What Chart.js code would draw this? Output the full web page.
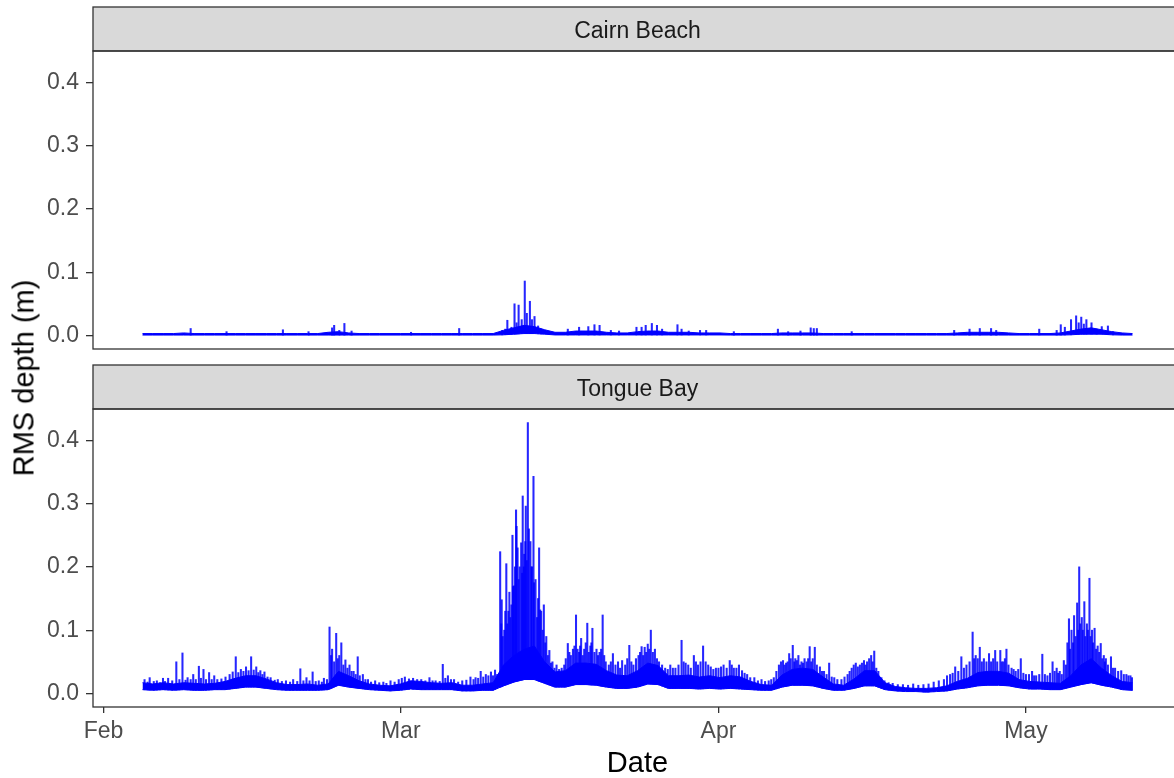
<!DOCTYPE html>
<html>
<head>
<meta charset="utf-8">
<title>RMS depth</title>
<script src="https://cdn.jsdelivr.net/npm/chart.js@4.4.1/dist/chart.umd.min.js"></script>
<style>
html, body { margin: 0; padding: 0; overflow: hidden; background: #fff; }
#wrap { position: relative; width: 1174px; height: 778px; overflow: hidden; }
#cnvCairn { position: absolute; left: 0; top: 0; }
#cnvTongue { position: absolute; left: 0; top: 360px; }
#lblY { position: absolute; left: 24px; top: 378px; transform: translate(-50%, -50%) rotate(-90deg);
  font: 29px "Liberation Sans", Arial, sans-serif; line-height: 1; white-space: nowrap; color: #000; }
</style>
</head>
<body>
<div id="wrap">
  <canvas id="cnvCairn" width="1184" height="360"></canvas>
  <canvas id="cnvTongue" width="1184" height="418"></canvas>
  <div id="lblY">RMS depth (m)</div>
</div>
<script>
// days are counted from 1 Feb
var monthTicks = [0, 29, 60, 90];
var monthLabels = ["Feb", "Mar", "Apr", "May"];
var yTicks = [0, 0.1, 0.2, 0.3, 0.4];
var firstDay = 3.8, lastDay = 100.4;

// Tongue Bay: lower / upper edge of the dense band, one value per day
var tbLow = [
  0.006, 0.005, 0.006, 0.005, 0.006, 0.005, 0.005, 0.006, 0.006, 0.008,
  0.010, 0.010, 0.008, 0.006, 0.005, 0.005, 0.005, 0.005, 0.006, 0.013,
  0.010, 0.008, 0.006, 0.005, 0.004, 0.005, 0.007, 0.006, 0.006, 0.006,
  0.006, 0.004, 0.004, 0.005, 0.005, 0.012, 0.018, 0.022, 0.022, 0.016,
  0.010, 0.010, 0.014, 0.014, 0.013, 0.010, 0.008, 0.008, 0.010, 0.015,
  0.014, 0.008, 0.008, 0.008, 0.007, 0.008, 0.007, 0.008, 0.007, 0.006,
  0.005, 0.005, 0.010, 0.013, 0.013, 0.012, 0.008, 0.005, 0.005, 0.008,
  0.012, 0.012, 0.006, 0.004, 0.003, 0.003, 0.002, 0.003, 0.004, 0.007,
  0.009, 0.012, 0.013, 0.013, 0.012, 0.009, 0.007, 0.007, 0.006, 0.006,
  0.010, 0.014, 0.017, 0.013, 0.010, 0.006, 0.005
];
var tbHigh = [
  0.017, 0.015, 0.017, 0.015, 0.017, 0.016, 0.015, 0.016, 0.019, 0.024,
  0.028, 0.028, 0.023, 0.017, 0.014, 0.014, 0.015, 0.013, 0.015, 0.035,
  0.028, 0.020, 0.015, 0.013, 0.012, 0.015, 0.020, 0.019, 0.017, 0.016,
  0.017, 0.013, 0.013, 0.015, 0.017, 0.045, 0.060, 0.070, 0.075, 0.050,
  0.034, 0.036, 0.048, 0.048, 0.046, 0.036, 0.029, 0.028, 0.036, 0.048,
  0.044, 0.028, 0.028, 0.029, 0.026, 0.028, 0.025, 0.028, 0.026, 0.019,
  0.014, 0.013, 0.029, 0.038, 0.040, 0.038, 0.026, 0.015, 0.013, 0.023,
  0.036, 0.036, 0.017, 0.011, 0.009, 0.008, 0.008, 0.009, 0.012, 0.019,
  0.024, 0.033, 0.035, 0.035, 0.032, 0.022, 0.019, 0.018, 0.017, 0.016,
  0.028, 0.045, 0.055, 0.040, 0.028, 0.019, 0.017
];
// Tongue Bay: single spikes above the band, [day, top]
var tbSpikes = [
  [4.0, .022], [4.3, .018], [4.5, .025], [4.9, .019], [5.2, .020], [5.5, .017], [5.8, .024], [6.0, .019],
  [6.3, .024], [6.7, .020], [7.1, .050], [7.4, .022], [7.7, .064], [8.0, .021], [8.2, .025], [8.5, .022],
  [8.75, .030], [9.0, .022], [9.3, .043], [9.5, .024], [9.75, .038], [10.0, .022], [10.3, .033], [10.55, .022],
  [10.8, .028], [11.1, .022], [11.5, .023], [11.9, .026], [12.3, .030], [12.6, .034], [12.9, .058], [13.15, .033],
  [13.4, .038], [13.65, .035], [13.9, .042], [14.15, .036], [14.4, .058], [14.65, .037], [14.9, .042], [15.1, .033],
  [15.3, .036], [15.5, .030], [15.7, .034], [16.0, .026], [16.3, .025], [16.7, .021], [17.0, .022], [17.4, .019],
  [17.8, .020], [18.2, .018], [18.5, .022], [18.9, .019], [19.2, .039], [19.5, .020], [19.8, .025], [20.1, .020],
  [20.4, .034], [20.7, .019], [21.0, .020], [21.3, .018], [21.5, .024], [21.8, .022],
  [22.05, .105], [22.2, .060], [22.3, .070], [22.5, .050], [22.7, .095], [22.85, .055], [23.0, .060], [23.2, .080],
  [23.4, .045], [23.6, .053], [23.8, .040], [24.0, .045], [24.2, .035], [24.4, .035], [24.6, .030], [24.8, .058],
  [25.0, .028], [25.3, .030], [25.55, .022], [25.8, .022],
  [26.1, .018], [26.5, .020], [26.9, .017], [27.3, .018], [27.6, .016], [28.0, .020], [28.4, .018], [28.8, .022],
  [29.1, .024], [29.4, .026], [29.8, .023], [30.2, .024], [30.6, .022], [31.0, .022], [31.4, .020], [31.8, .025],
  [32.1, .020], [32.4, .020], [32.8, .019], [33.1, .046], [33.35, .024], [33.6, .028], [33.9, .022], [34.2, .022],
  [34.6, .018], [35.0, .020], [35.4, .021], [35.8, .026], [36.1, .022], [36.3, .025], [36.55, .024], [36.8, .035],
  [37.05, .026], [37.3, .030], [37.55, .028], [37.8, .034], [38.0, .028], [38.2, .037], [38.4, .030],
  [38.7, .224], [38.8, .110], [38.85, .148], [38.95, .090], [39.1, .100], [39.2, .130], [39.3, .205], [39.4, .110],
  [39.5, .130], [39.6, .160], [39.7, .120], [39.8, .140], [39.9, .250], [39.95, .169], [40.05, .170], [40.15, .200],
  [40.25, .290], [40.3, .264], [40.4, .230], [40.5, .180], [40.6, .200], [40.75, .238], [40.85, .190], [40.9, .312],
  [41.0, .200], [41.05, .220], [41.15, .240], [41.2, .296], [41.3, .210], [41.4, .428], [41.5, .260], [41.65, .240],
  [41.75, .200], [41.8, .200], [41.95, .343], [42.0, .175], [42.15, .180], [42.3, .120], [42.4, .150], [42.5, .230],
  [42.6, .132], [42.7, .130], [42.85, .100], [42.96, .140], [43.1, .080], [43.2, .090], [43.35, .060], [43.5, .068],
  [43.65, .048], [43.8, .050],
  [44.0, .040], [44.2, .045], [44.45, .038], [44.7, .040], [44.95, .045], [45.1, .055], [45.3, .079], [45.45, .065],
  [45.6, .060], [45.8, .070], [45.95, .075], [46.1, .124], [46.25, .070], [46.4, .065], [46.5, .075], [46.6, .087],
  [46.75, .060], [46.9, .070], [47.05, .080], [47.2, .111], [47.35, .065], [47.5, .075], [47.6, .080], [47.7, .103],
  [47.9, .065], [48.1, .070], [48.25, .060], [48.4, .065], [48.55, .070], [48.7, .124], [48.85, .060], [49.0, .050],
  [49.3, .045], [49.5, .050], [49.7, .063], [49.95, .045], [50.2, .050], [50.4, .040], [50.6, .052], [50.9, .045],
  [51.1, .055], [51.3, .076], [51.5, .050], [51.7, .045], [51.95, .055], [52.2, .060], [52.35, .065], [52.5, .074],
  [52.65, .060], [52.8, .073], [52.95, .065], [53.1, .078], [53.25, .070], [53.4, .100], [53.6, .065], [53.8, .070],
  [54.0, .055], [54.2, .050], [54.5, .045], [54.8, .040], [55.05, .038], [55.3, .045], [55.55, .040], [55.8, .040],
  [56.1, .045], [56.4, .084], [56.6, .050], [56.8, .048], [57.05, .045], [57.3, .040], [57.6, .060], [57.8, .050],
  [58.0, .045], [58.25, .050], [58.5, .075], [58.75, .050], [59.0, .045], [59.25, .042], [59.5, .038], [59.75, .040],
  [60.0, .040], [60.25, .042], [60.5, .045], [60.8, .040], [61.1, .052], [61.3, .045], [61.5, .040], [61.75, .040],
  [62.0, .045], [62.3, .036], [62.55, .032], [62.8, .030], [63.1, .025], [63.5, .025], [63.85, .020], [64.2, .022],
  [64.55, .019], [64.9, .020], [65.15, .022], [65.4, .025], [65.65, .035], [65.9, .045], [66.1, .050], [66.3, .052],
  [66.45, .045], [66.6, .048], [66.75, .050], [66.9, .063], [67.05, .055], [67.25, .076], [67.4, .050], [67.5, .055],
  [67.65, .052], [67.8, .060], [67.95, .045], [68.1, .050], [68.25, .048], [68.4, .055], [68.6, .050], [68.75, .055],
  [68.9, .074], [69.05, .050], [69.2, .055], [69.4, .073], [69.6, .045], [69.9, .042], [70.1, .035], [70.3, .035],
  [70.55, .030], [70.8, .048], [71.05, .026], [71.3, .025], [71.6, .022], [72.0, .022], [72.3, .026], [72.6, .030],
  [72.8, .035], [73.0, .040], [73.2, .045], [73.4, .048], [73.6, .042], [73.8, .045], [74.0, .048], [74.2, .052],
  [74.35, .045], [74.5, .050], [74.7, .055], [74.9, .060], [75.05, .050], [75.2, .067], [75.4, .040], [75.6, .035],
  [75.9, .025], [76.2, .020], [76.6, .017], [77.0, .016], [77.5, .014], [78.0, .014], [78.5, .013], [79.0, .015],
  [79.5, .013], [80.0, .014], [80.5, .015], [81.0, .018], [81.5, .020], [82.0, .022], [82.3, .028], [82.6, .030],
  [82.85, .032], [83.1, .042], [83.4, .035], [83.7, .058], [83.95, .040], [84.2, .045], [84.5, .050], [84.8, .097],
  [84.95, .055], [85.1, .060], [85.3, .055], [85.5, .073], [85.7, .050], [85.9, .055], [86.15, .050], [86.4, .063],
  [86.6, .050], [86.8, .055], [87.0, .068], [87.2, .050], [87.5, .068], [87.65, .050], [87.8, .050], [87.95, .055],
  [88.1, .070], [88.3, .045], [88.6, .040], [88.8, .038], [89.0, .035], [89.25, .038], [89.5, .055], [89.75, .032],
  [90.0, .030], [90.3, .030], [90.6, .035], [90.8, .028], [91.0, .028], [91.3, .030], [91.6, .062], [91.85, .030],
  [92.1, .028], [92.35, .032], [92.6, .050], [92.8, .035], [93.0, .040], [93.15, .032], [93.3, .035], [93.5, .030],
  [93.7, .052], [93.9, .045], [94.05, .080], [94.2, .118], [94.3, .070], [94.45, .100], [94.6, .080], [94.7, .123],
  [94.85, .090], [95.0, .143], [95.1, .100], [95.2, .200], [95.3, .110], [95.45, .120], [95.55, .100], [95.7, .145],
  [95.8, .090], [95.95, .110], [96.05, .100], [96.2, .182], [96.3, .090], [96.45, .100], [96.55, .080], [96.7, .103],
  [96.85, .070], [97.0, .075], [97.15, .065], [97.3, .079], [97.45, .055], [97.6, .060], [97.7, .050], [97.8, .055],
  [98.0, .045], [98.3, .058], [98.5, .040], [98.7, .040], [99.0, .035], [99.3, .036], [99.55, .030], [99.8, .030],
  [100.0, .028], [100.2, .028], [100.35, .025]
];

// Cairn Beach: lower / upper edge of the band, one value per day
var cbLow = [
  0.0006, 0.0006, 0.0006, 0.0006, 0.0006, 0.0006, 0.0006, 0.0006, 0.0006, 0.0006,
  0.0006, 0.0006, 0.0006, 0.0006, 0.0006, 0.0006, 0.0006, 0.0006, 0.0006, 0.0006,
  0.0006, 0.0006, 0.0006, 0.0006, 0.0006, 0.0006, 0.0006, 0.0006, 0.0006, 0.0006,
  0.0006, 0.0006, 0.0006, 0.0006, 0.0006, 0.0010, 0.0020, 0.0030, 0.0030, 0.0020,
  0.0008, 0.0008, 0.0008, 0.0008, 0.0008, 0.0008, 0.0008, 0.0008, 0.0008, 0.0008,
  0.0008, 0.0008, 0.0008, 0.0008, 0.0008, 0.0008, 0.0008, 0.0006, 0.0006, 0.0006,
  0.0006, 0.0006, 0.0006, 0.0006, 0.0006, 0.0006, 0.0006, 0.0006, 0.0006, 0.0006,
  0.0006, 0.0006, 0.0006, 0.0006, 0.0006, 0.0006, 0.0006, 0.0006, 0.0006, 0.0006,
  0.0006, 0.0006, 0.0006, 0.0006, 0.0006, 0.0006, 0.0006, 0.0006, 0.0006, 0.0006,
  0.0010, 0.0020, 0.0020, 0.0020, 0.0010, 0.0006, 0.0006
];
var cbHigh = [
  0.003, 0.003, 0.003, 0.003, 0.004, 0.003, 0.003, 0.003, 0.003, 0.003,
  0.003, 0.003, 0.003, 0.003, 0.003, 0.003, 0.003, 0.003, 0.005, 0.006,
  0.004, 0.003, 0.003, 0.003, 0.003, 0.003, 0.003, 0.003, 0.003, 0.003,
  0.003, 0.003, 0.003, 0.003, 0.003, 0.008, 0.012, 0.016, 0.014, 0.009,
  0.005, 0.005, 0.007, 0.007, 0.007, 0.005, 0.004, 0.004, 0.006, 0.007,
  0.007, 0.005, 0.005, 0.005, 0.004, 0.004, 0.004, 0.003, 0.003, 0.003,
  0.003, 0.003, 0.004, 0.004, 0.004, 0.004, 0.003, 0.003, 0.003, 0.003,
  0.003, 0.003, 0.003, 0.003, 0.003, 0.003, 0.003, 0.003, 0.003, 0.004,
  0.005, 0.005, 0.005, 0.005, 0.004, 0.003, 0.003, 0.003, 0.003, 0.004,
  0.007, 0.010, 0.012, 0.009, 0.006, 0.004, 0.003
];
// Cairn Beach: single spikes, [day, top]
var cbSpikes = [
  [8.5, .011], [12.0, .006], [17.5, .009], [20.0, .006], [22.3, .012], [22.5, .016], [23.0, .008], [23.5, .019],
  [24.2, .007], [30.0, .005], [34.7, .011],
  [38.9, .008], [39.2, .010], [39.4, .024], [39.8, .013], [40.1, .050], [40.3, .020], [40.5, .048], [40.8, .025],
  [41.1, .086], [41.3, .035], [41.6, .054], [41.8, .025], [42.05, .030], [42.4, .015], [42.7, .010],
  [45.3, .010], [46.4, .013], [47.3, .014], [47.9, .017], [48.4, .016], [49.5, .008], [50.3, .007], [52.0, .013],
  [52.5, .013], [52.9, .016], [53.5, .019], [54.0, .016], [54.5, .010], [56.0, .017], [56.4, .010], [57.1, .007],
  [58.2, .008], [58.8, .008], [61.5, .006], [65.8, .010], [66.8, .006], [68.0, .007], [69.0, .012], [69.3, .011],
  [69.6, .011], [73.0, .006], [83.0, .008], [84.5, .010], [85.5, .011], [86.6, .011], [87.1, .008], [91.3, .010],
  [93.0, .008], [93.4, .017], [93.8, .013], [94.4, .025], [94.9, .031], [95.15, .020], [95.4, .029], [95.65, .018],
  [95.9, .025], [96.4, .020], [96.9, .010], [97.4, .014], [98.0, .015], [98.5, .006]
];

var BLUE = "#0000ff";
var FONT = '"Liberation Sans", Arial, sans-serif';
var dayStep = (lastDay - firstDay) / (tbLow.length - 1);
var xPad = (lastDay - firstDay) * 0.05;
var yTop = Math.max.apply(null, tbSpikes.map(function (p) { return p[1]; }));
var yPad = yTop * 0.05;

function bandPoints(values) {
  return values.map(function (v, i) { return { x: firstDay + i * dayStep, y: v }; });
}

function lowAt(low, day) {
  var pos = (day - firstDay) / dayStep;
  var i = Math.max(0, Math.min(low.length - 2, Math.floor(pos)));
  var f = pos - i;
  return low[i] + (low[i + 1] - low[i]) * f;
}

function spikeBars(spikes, low) {
  return spikes.map(function (p) { return { x: p[0], y: [lowAt(low, p[0]), p[1]] }; });
}

// strip on top of the panel + panel border
var panelFrame = {
  id: "panelFrame",
  afterDraw: function (chart, args, opts) {
    var ctx = chart.ctx, a = chart.chartArea;
    var w = a.right - a.left;
    ctx.save();
    ctx.fillStyle = "#d9d9d9";
    ctx.fillRect(a.left, a.top - opts.stripHeight, w, opts.stripHeight);
    ctx.strokeStyle = "#333333";
    ctx.lineWidth = 1.3;
    ctx.strokeRect(a.left, a.top - opts.stripHeight, w, opts.stripHeight);
    ctx.strokeRect(a.left, a.top, w, a.bottom - a.top);
    ctx.fillStyle = "#1a1a1a";
    ctx.font = "23px " + FONT;
    ctx.textAlign = "center";
    ctx.textBaseline = "middle";
    ctx.fillText(opts.label, a.left + w / 2, a.top - opts.stripHeight / 2 + 3);
    ctx.restore();
  }
};

function makePanel(canvasId, label, low, high, spikes, showDate) {
  var xAxis = {
    type: "linear",
    min: firstDay - xPad,
    max: lastDay + xPad,
    offset: false,
    display: showDate,
    afterBuildTicks: function (s) { s.ticks = monthTicks.map(function (v) { return { value: v }; }); },
    grid: { drawOnChartArea: false, offset: false, tickLength: 6, color: "#333333", lineWidth: 1.3 },
    border: { display: false },
    ticks: {
      padding: 5, autoSkip: false, maxRotation: 0, color: "#4d4d4d",
      font: { family: FONT, size: 23 },
      callback: function (v, i) { return monthLabels[i]; }
    },
    title: { display: true, text: "Date", color: "#000", font: { family: FONT, size: 29, lineHeight: 1 }, padding: { top: 0, bottom: 0 } }
  };
  if (showDate) {
    xAxis.afterFit = function (s) { s.height = 71; };
  }
  return new Chart(document.getElementById(canvasId), {
    type: "line",
    data: {
      datasets: [
        { data: bandPoints(low), borderColor: BLUE, borderWidth: 1, pointRadius: 0, fill: false },
        { data: bandPoints(high), borderColor: BLUE, borderWidth: 1, pointRadius: 0, fill: "-1", backgroundColor: BLUE },
        { type: "bar", data: spikeBars(spikes, low), backgroundColor: "rgba(0,0,255,0.85)",
          barThickness: 1.4, grouped: false }
      ]
    },
    options: {
      responsive: false,
      animation: false,
      layout: {
        autoPadding: false,
        padding: { left: 0, right: 2, top: showDate ? 49 : 51, bottom: showDate ? 0 : 11 }
      },
      plugins: {
        legend: { display: false },
        tooltip: { enabled: false },
        panelFrame: { label: label, stripHeight: 44 }
      },
      scales: {
        x: xAxis,
        y: {
          min: -yPad,
          max: yTop + yPad,
          afterBuildTicks: function (s) { s.ticks = yTicks.map(function (v) { return { value: v }; }); },
          afterFit: function (s) {
            s.width = 93;
            // the panel edges are set by the layout padding, not by the tick labels
            s.paddingTop = 0;
            s.paddingBottom = 0;
          },
          grid: { drawOnChartArea: false, tickLength: 7, color: "#333333", lineWidth: 1.3 },
          border: { display: false },
          ticks: {
            padding: 7, color: "#4d4d4d",
            font: { family: FONT, size: 23 },
            callback: function (v) { return v.toFixed(1); }
          }
        }
      }
    },
    plugins: [panelFrame]
  });
}

makePanel("cnvCairn", "Cairn Beach", cbLow, cbHigh, cbSpikes, false);
makePanel("cnvTongue", "Tongue Bay", tbLow, tbHigh, tbSpikes, true);
</script>
</body>
</html>
